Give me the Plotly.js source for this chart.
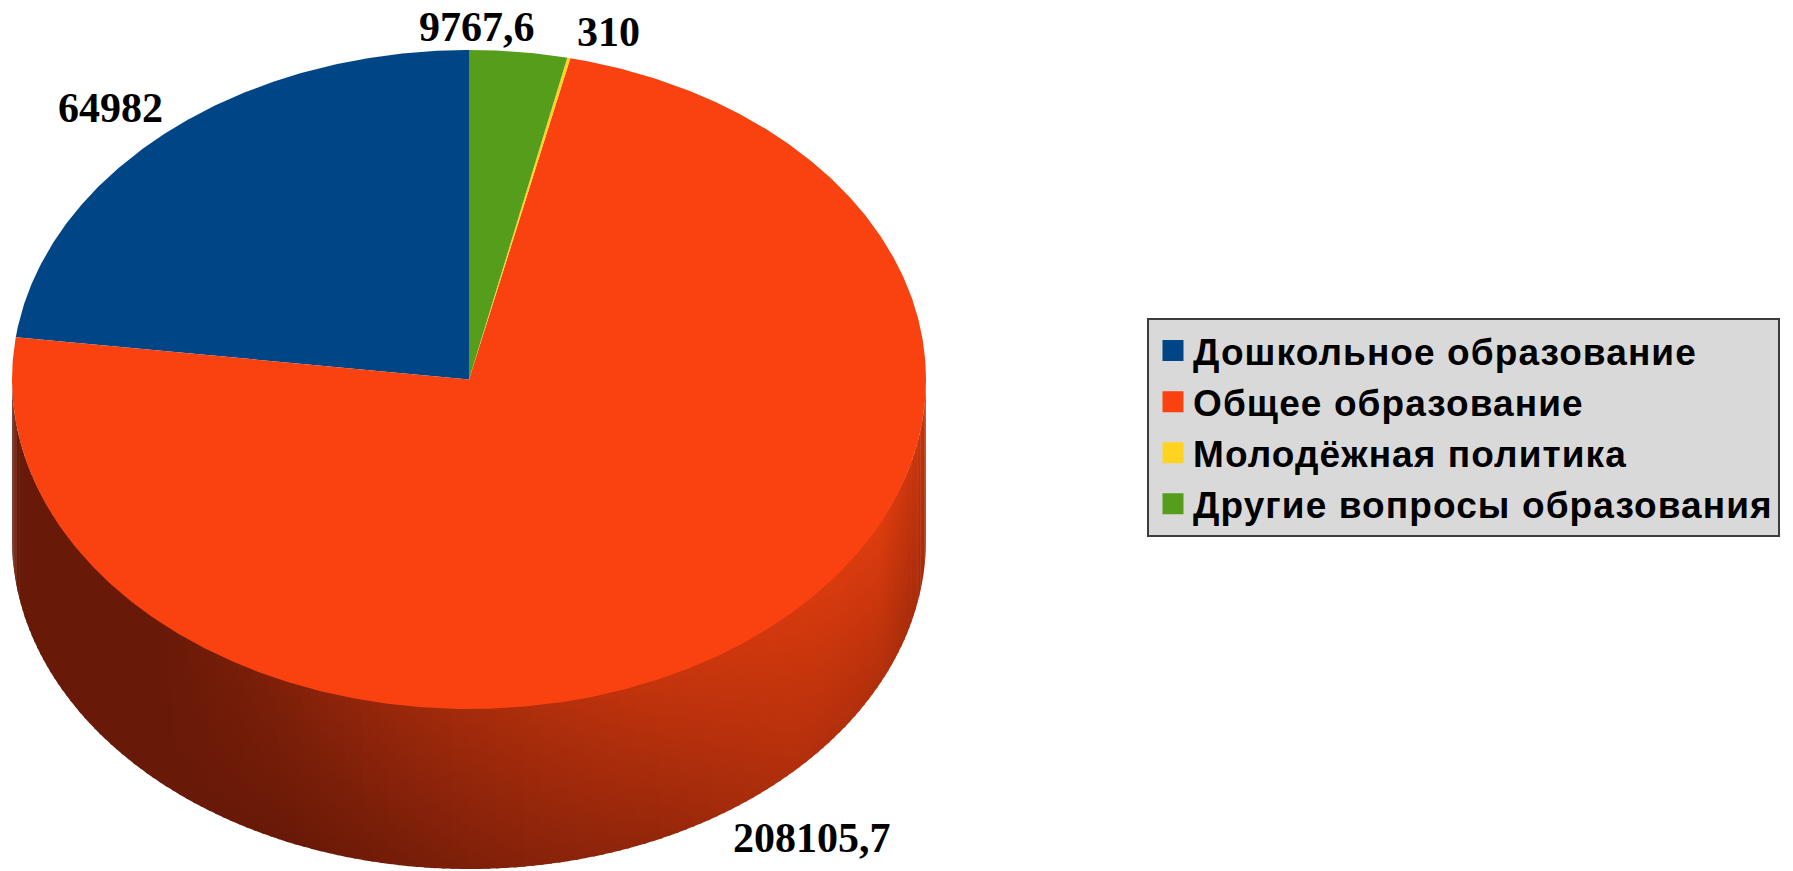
<!DOCTYPE html>
<html>
<head>
<meta charset="utf-8">
<script src="https://cdn.plot.ly/plotly-3.0.1.min.js"></script>
<style>
html,body{margin:0;padding:0;background:#fff;overflow:hidden}
.legendtext{letter-spacing:1.1px}
</style>
</head>
<body>
<div id="chart" style="width:1793px;height:871px"></div>
<script>
// ---- data ----
const categories = ["Дошкольное образование", "Общее образование", "Молодёжная политика", "Другие вопросы образования"];
const values = [64982, 208105.7, 310, 9767.6];
const colors = ["#004586", "#f9420f", "#ffd320", "#579d1c"];

// ---- label placement (pixels) ----
const labelPos = [[110, 108], [812, 838], [608, 32], [477, 27]];

// ---- pie geometry ----
const PIE = {cx: 469, cy: 379.5, rx: 457, ry: 329.5, depth: 160};
// side shading (t: 0 = dark, 1 = bright) vs horizontal fraction s
const TOP_S = [0, 0.16, 0.26, 0.41, 0.55, 0.71, 0.86, 0.95, 1.0];
const TOP_T = [0, 0, 0.14, 0.38, 0.55, 0.75, 0.88, 0.95, 0.72];
const BOT_S = [0, 0.3, 0.41, 0.55, 0.71, 0.86, 0.95, 1.0];
const BOT_T = [0, 0, 0.08, 0.22, 0.36, 0.6, 0.6, 0.48];
const DARK = [104, 25, 8], BRIGHT = [228, 62, 14];

function interp(xs, ys, x) {
  if (x <= xs[0]) return ys[0];
  for (let i = 1; i < xs.length; i++) {
    if (x <= xs[i]) { const f = (x - xs[i-1]) / (xs[i] - xs[i-1]); return ys[i-1] + f * (ys[i] - ys[i-1]); }
  }
  return ys[ys.length - 1];
}
function shade(t) {
  t = Math.max(0, Math.min(1, t));
  const c = DARK.map((d, i) => Math.round(d + (BRIGHT[i] - d) * t));
  return `rgb(${c[0]},${c[1]},${c[2]})`;
}
const rad = d => d * Math.PI / 180;
const px = d => PIE.cx + PIE.rx * Math.cos(rad(d));
const py = d => PIE.cy - PIE.ry * Math.sin(rad(d));

const traces = [];

// ---- cylinder side (front half), drawn as shaded strips ----
const N = 160, K = 6;
for (let i = 0; i < N; i++) {
  const th0 = 180 + 180 * i / N;
  const th1 = Math.min(360, 180 + 180 * (i + 1) / N + 0.35);
  const xs = [], ys = [];
  for (let k = 0; k <= K; k++) {
    const th = th0 + (th1 - th0) * k / K;
    xs.push(px(th)); ys.push(py(th) - 2 * Math.abs(Math.sin(rad(th))));
  }
  for (let k = K; k >= 0; k--) {
    const th = th0 + (th1 - th0) * k / K;
    xs.push(px(th)); ys.push(py(th) + PIE.depth);
  }
  const thm = (th0 + th1) / 2;
  const s = (px(thm) - (PIE.cx - PIE.rx)) / (2 * PIE.rx);
  const yt = py(thm), yb = yt + PIE.depth;
  const tt = interp(TOP_S, TOP_T, s), tb = interp(BOT_S, BOT_T, s);
  const cs = [0, 0.5, 1].map(w => [w, shade(tt + (tb - tt) * w)]);
  traces.push({
    type: "scatter", mode: "lines", x: xs, y: ys, fill: "toself",
    fillcolor: shade((tt + tb) / 2),
    fillgradient: {type: "vertical", start: yt, stop: yb, colorscale: cs},
    line: {width: 0}, hoverinfo: "skip", showlegend: false
  });
}

// ---- top face slices ----
const total = values.reduce((a, b) => a + b, 0);
let ang = 90;
values.forEach((v, i) => {
  const a0 = ang, a1 = ang + 360 * v / total; ang = a1;
  const steps = Math.max(2, Math.ceil((a1 - a0) / 0.4));
  const xs = [PIE.cx], ys = [PIE.cy];
  for (let k = 0; k <= steps; k++) { const a = a0 + (a1 - a0) * k / steps; xs.push(px(a)); ys.push(py(a)); }
  xs.push(PIE.cx); ys.push(PIE.cy);
  traces.push({
    type: "scatter", mode: "lines", x: xs, y: ys, fill: "toself",
    fillcolor: colors[i], line: {width: 0, color: colors[i]},
    name: categories[i], legendgroup: "g" + i, showlegend: false,
    hovertemplate: categories[i] + ": " + v + "<extra></extra>"
  });
});

// ---- legend entries ----
categories.forEach((c, i) => {
  traces.push({
    type: "scatter", mode: "markers", x: [null], y: [null], name: c, legendgroup: "g" + i,
    marker: {symbol: "square", size: 16, color: colors[i], line: {color: colors[i], width: 5}},
    showlegend: true
  });
});

// ---- value labels ----
const annotations = values.map((v, i) => ({
  x: labelPos[i][0], y: labelPos[i][1], xref: "x", yref: "y",
  text: String(v).replace(".", ","), showarrow: false,
  xanchor: "center", yanchor: "middle",
  font: {family: "Liberation Serif, 'Times New Roman', serif", size: 42, color: "#000", weight: "bold"}
}));

const layout = {
  width: 1793, height: 871,
  margin: {l: 0, r: 0, t: 0, b: 0, pad: 0},
  paper_bgcolor: "#ffffff", plot_bgcolor: "#ffffff",
  xaxis: {range: [0, 1793], visible: false, fixedrange: true},
  yaxis: {range: [871, 0], visible: false, fixedrange: true},
  showlegend: true,
  legend: {
    x: 1147 / 1793, y: 1 - 318 / 871, xanchor: "left", yanchor: "top",
    bgcolor: "#d9d9d9", bordercolor: "#3c3c3c", borderwidth: 2,
    font: {family: "Liberation Sans, Arial, sans-serif", size: 37, color: "#000", weight: "bold"},
    traceorder: "normal", itemclick: false, itemdoubleclick: false, indentation: 4
  },
  annotations: annotations
};

Plotly.newPlot("chart", traces, layout, {displayModeBar: false, responsive: false});
</script>
</body>
</html>
